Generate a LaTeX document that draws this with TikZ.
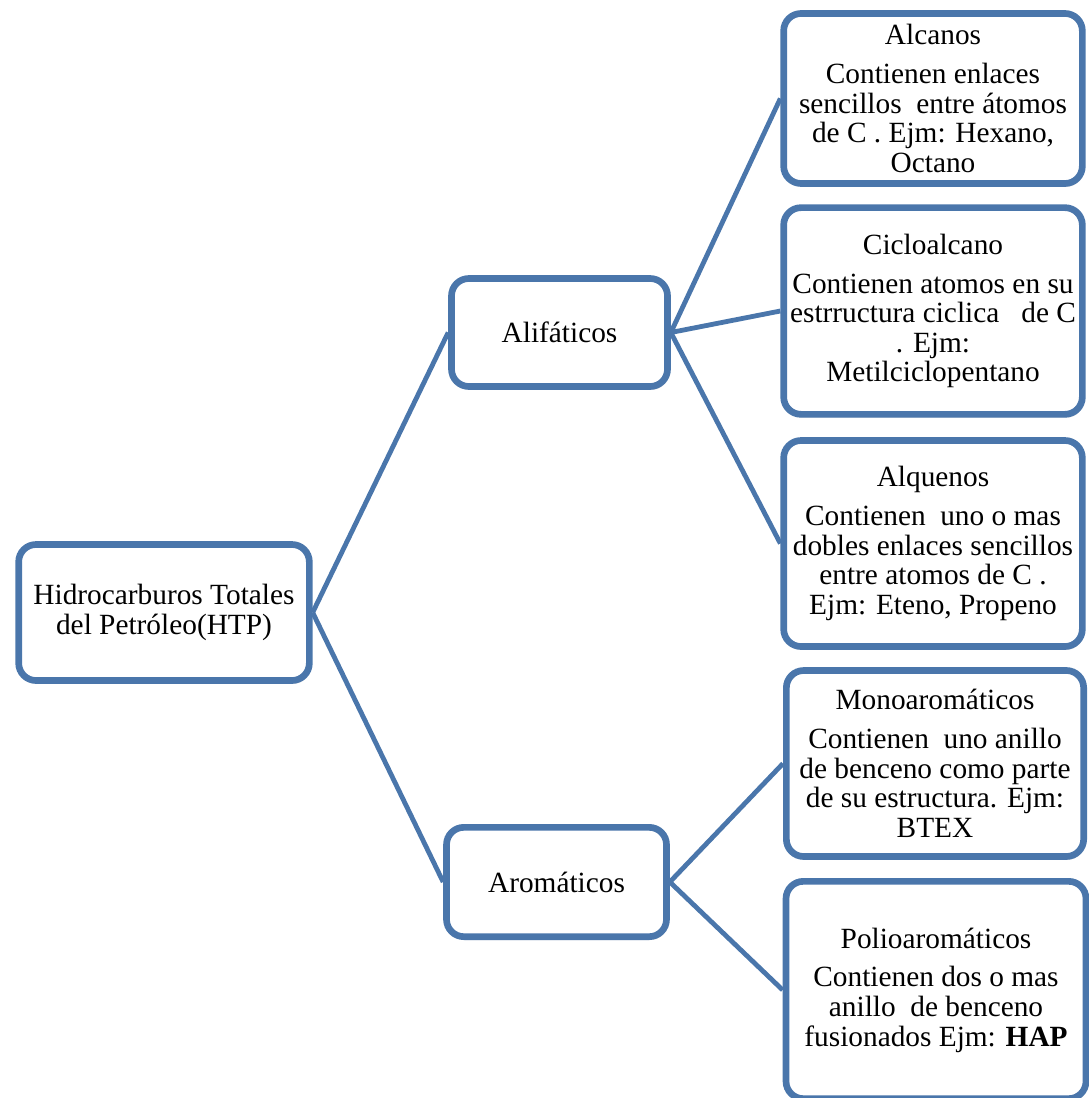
\documentclass[tikz,border=0pt]{standalone}
\usepackage{fontspec}
\setmainfont{Liberation Serif}
\usetikzlibrary{shadows}

\definecolor{smartblue}{RGB}{74,118,171}

\tikzset{
  BoxStyle/.style={draw=smartblue, line width=5pt, rounded corners=13pt, fill=white,
    align=center, inner sep=0pt, font=\fontsize{22}{22.2}\selectfont,
    drop shadow={opacity=0.25, shadow xshift=1pt, shadow yshift=-2.5pt}},
  LinkStyle/.style={draw=smartblue, line width=3.6pt}
}

\begin{document}
\begin{tikzpicture}[x=0.75pt, y=-0.75pt]
    \useasboundingbox (0,0) rectangle (1088,1098);

    \node[BoxStyle, minimum width=218pt, minimum height=102pt] (htp) at (164,612.5)
        {Hidrocarburos Totales\\del Petróleo(HTP)};

    \node[BoxStyle, minimum width=162pt, minimum height=81pt] (alif) at (559.5,332.5) {Alifáticos};
    \node[BoxStyle, minimum width=165pt, minimum height=82pt] (arom) at (556.5,882) {Aromáticos};

    \node[BoxStyle, minimum width=224pt, minimum height=127.5pt] (alcanos) at (933,98.5)
        {Alcanos\\[7pt]Contienen enlaces\\sencillos \ entre átomos\\de C . Ejm: Hexano,\\Octano};
    \node[BoxStyle, minimum width=224pt, minimum height=155pt] (ciclo) at (933,311)
        {Cicloalcano\\[7pt]Contienen atomos en su\\estrructura ciclica \ \ de C\\. Ejm:\\Metilciclopentano};
    \node[BoxStyle, minimum width=224pt, minimum height=154.5pt] (alquenos) at (933,543.5)
        {Alquenos\\[7pt]Contienen \ uno o mas\\dobles enlaces sencillos\\entre atomos de C .\\Ejm: Eteno, Propeno};
    \node[BoxStyle, minimum width=223pt, minimum height=139.5pt] (mono) at (935,763.5)
        {Monoaromáticos\\[7pt]Contienen \ uno anillo\\de benceno como parte\\de su estructura. Ejm:\\BTEX};
    \node[BoxStyle, minimum width=225pt, minimum height=163pt] (poli) at (936,990)
        {Polioaromáticos\\[7pt]Contienen dos o mas\\anillo \ de benceno\\fusionados Ejm: \textbf{HAP}};

    \draw[LinkStyle] (htp.east) -- (alif.west);
    \draw[LinkStyle] (htp.east) -- (arom.west);
    \draw[LinkStyle] (alif.east) -- (alcanos.west);
    \draw[LinkStyle] (alif.east) -- (ciclo.west);
    \draw[LinkStyle] (alif.east) -- (alquenos.west);
    \draw[LinkStyle] (arom.east) -- (mono.west);
    \draw[LinkStyle] (arom.east) -- (poli.west);

\end{tikzpicture}
\end{document}
